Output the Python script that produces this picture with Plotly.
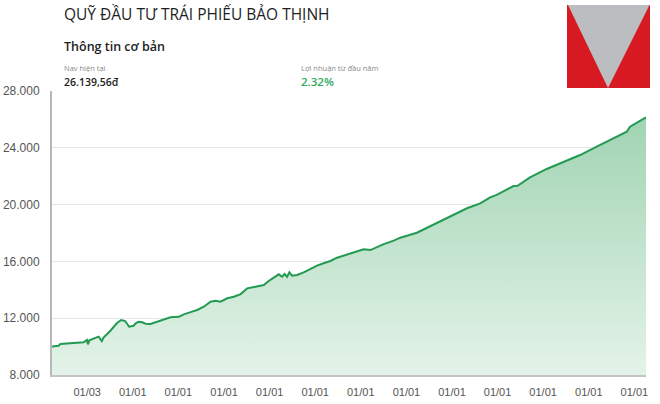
import plotly.graph_objects as go

# ---- data ----
dates = [
    "2013-03-25", "2013-05-17", "2013-05-31", "2013-12-03", "2013-12-30", "2014-01-07",
    "2014-01-18", "2014-04-02", "2014-04-28", "2014-05-12", "2014-07-04", "2014-08-26",
    "2014-09-30", "2014-11-01", "2014-12-03", "2015-01-07", "2015-01-25", "2015-02-16",
    "2015-03-17", "2015-04-13", "2015-05-23", "2015-07-16", "2015-09-07", "2015-10-30",
    "2016-01-05", "2016-02-14", "2016-04-21", "2016-05-31", "2016-07-23", "2016-09-15",
    "2016-10-25", "2016-12-04", "2017-01-27", "2017-03-21", "2017-05-14", "2017-07-05",
    "2017-09-10", "2017-11-15", "2017-12-25", "2018-02-03", "2018-03-15", "2018-04-11",
    "2018-05-01", "2018-05-21", "2018-06-08", "2018-06-30", "2018-08-09", "2018-10-01",
    "2018-11-24", "2019-01-16", "2019-03-10", "2019-05-03", "2019-06-25", "2019-08-17",
    "2019-10-10", "2020-01-24", "2020-03-18", "2020-04-14", "2020-07-03", "2020-09-21",
    "2020-11-13", "2021-03-26", "2021-06-14", "2021-09-28", "2022-01-13", "2022-05-01",
    "2022-08-15", "2022-11-03", "2022-12-25", "2023-05-08", "2023-06-10", "2023-09-18",
    "2024-01-30", "2024-06-11", "2024-10-23", "2025-03-05", "2025-07-17", "2025-11-01",
    "2025-11-27", "2026-04-04",
]
nav = [
    10000, 10060, 10180, 10300, 10465, 10160,
    10440, 10700, 10390, 10630, 11100, 11640,
    11870, 11800, 11400, 11470, 11640, 11750,
    11710, 11610, 11590, 11750, 11920, 12060,
    12100, 12270, 12460, 12580, 12810, 13160,
    13230, 13160, 13400, 13510, 13700, 14100,
    14220, 14340, 14620, 14880, 15090, 14920,
    15110, 14920, 15230, 14990, 15040, 15230,
    15470, 15700, 15870, 16030, 16260, 16400,
    16570, 16850, 16800, 16920, 17220, 17460,
    17670, 18020, 18370, 18800, 19320, 19740,
    20090, 20510, 20680, 21310, 21330, 21920,
    22510, 23020, 23490, 24080, 24670, 25130,
    25490, 26140,
]
x_tickvals = ["2014-01-01", "2015-01-01", "2016-01-01", "2017-01-01", "2018-01-01",
              "2019-01-01", "2020-01-01", "2021-01-01", "2022-01-01", "2023-01-01",
              "2024-01-01", "2025-01-01", "2026-01-01"]
x_ticktext = ["01/03"] + ["01/01"] * 12
y_tickvals = [8000, 12000, 16000, 20000, 24000, 28000]

title_text = "QUỸ ĐẦU TƯ TRÁI PHIẾU BẢO THỊNH"
subtitle_text = "Thông tin cơ bản"
nav_label = "Nav hiện tại"
nav_value = "26.139,56đ"
ret_label = "Lợi nhuận từ đầu năm"
ret_value = "2.32%"

FONT = "Open Sans"
GREEN = "#239a52"

fig = go.Figure()
fig.add_trace(go.Scatter(
    x=dates, y=nav, mode="lines",
    line=dict(color=GREEN, width=2),
    fill="tozeroy",
    fillgradient=dict(type="vertical", start=8000, stop=26200,
                      colorscale=[[0, "rgb(228,243,233)"], [1, "rgb(160,212,178)"]]),
    hoverinfo="x+y", showlegend=False,
))

fig.update_layout(
    template="none",
    width=660, height=404,
    margin=dict(l=52, r=14, t=91, b=29, autoexpand=False),
    paper_bgcolor="white", plot_bgcolor="white",
    separators=",.",
    font=dict(family="Liberation Sans, Arial", color="#555"),
    xaxis=dict(
        type="date", range=["2013-03-25", "2026-04-04"],
        tickvals=x_tickvals, ticktext=x_ticktext,
        tickfont=dict(size=11, color="#555"),
        showgrid=False, showline=True, linecolor="#c4c4c4", linewidth=2,
        ticks="", ticklabelstandoff=6, zeroline=False, automargin=False,
    ),
    yaxis=dict(
        range=[8000, 28000], tickvals=y_tickvals, tickformat=",",
        tickfont=dict(size=12, color="#555"),
        showgrid=True, gridcolor="#e6e6e6", gridwidth=1,
        showline=True, linecolor="#b8b8b8", linewidth=2,
        ticks="", ticklabelstandoff=8, zeroline=False, automargin=False,
    ),
    shapes=[
        dict(type="rect", xref="paper", yref="paper",
             x0=(567 - 52) / 594, x1=(650 - 52) / 594,
             y0=(375 - 88) / 284, y1=(375 - 5) / 284,
             fillcolor="#d71a21", line=dict(width=0), layer="above"),
        dict(type="path", xref="paper", yref="paper",
             path="M {a},{t} L {b},{t} L {c},{u} Z".format(
                 a=(568 - 52) / 594, b=(649.5 - 52) / 594, c=(608 - 52) / 594,
                 t=(375 - 5) / 284, u=(375 - 88) / 284),
             fillcolor="#bcbdc1", line=dict(width=0), layer="above"),
    ],
)

def ann(text, px, py, size, color, weight="normal"):
    fig.add_annotation(
        text=text, xref="paper", yref="paper",
        x=(px - 52) / 594, y=(375 - py) / 284,
        xanchor="left", yanchor="middle", showarrow=False,
        font=dict(family=FONT, size=size, color=color, weight=weight),
    )

ann(title_text, 62, 14, 15.5, "#1e1e1e")
ann(subtitle_text, 62, 47, 12.5, "#222", 600)
ann(nav_label, 62, 68, 7.5, "#8a8a8a")
ann(nav_value, 62, 82, 10.5, "#222", 600)
ann(ret_label, 299, 68, 7.5, "#8a8a8a")
ann(ret_value, 299, 82, 11.5, "#2aa85c", 600)

fig.write_html("out.html")
